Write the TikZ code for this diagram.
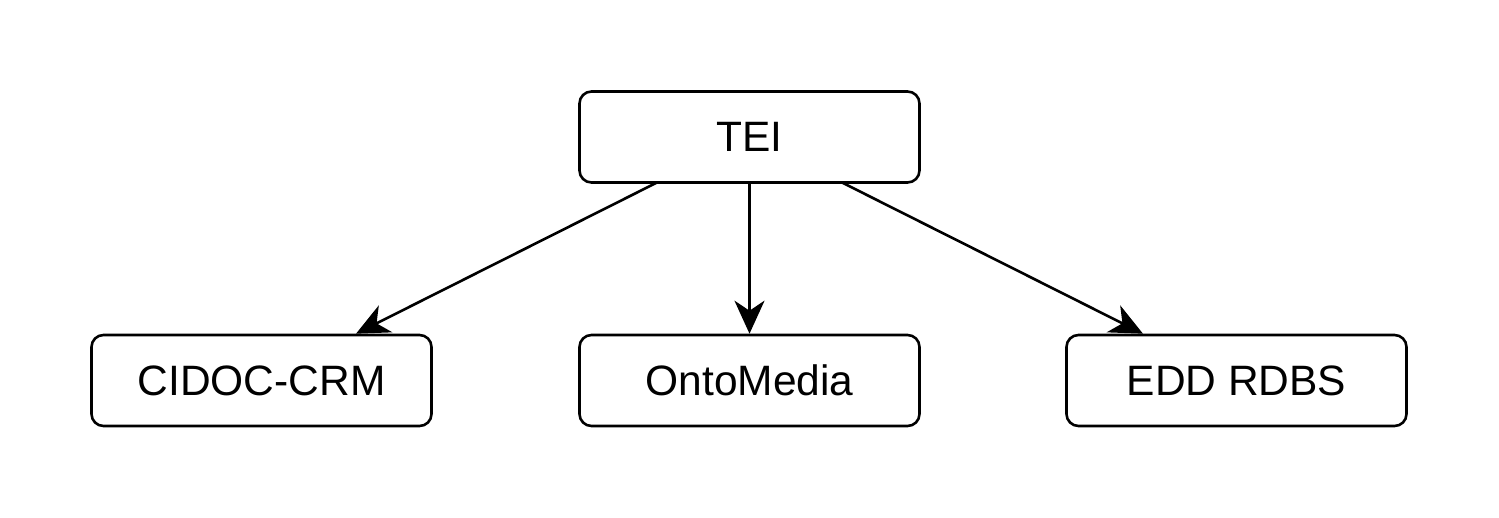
\documentclass[tikz,border=0pt]{standalone}
\usepackage{fontspec}
\setmainfont{Liberation Sans}
\usetikzlibrary{arrows.meta}
\begin{document}
\begin{tikzpicture}[x=1pt,y=-1pt,
  box/.style={draw, line width=2.6pt, rounded corners=12pt, minimum width=340pt, minimum height=91pt, inner sep=0pt, font=\fontsize{42.5}{50}\selectfont},
  conn/.style={line width=2.6pt, -{Stealth[length=33pt,width=30pt,inset=10pt]}}]
\useasboundingbox (0,0) rectangle (1499,518);
\node[box] (tei) at (749.5,137) {TEI};
\node[box] (cidoc) at (261.5,380.5) {CIDOC-CRM};
\node[box] (onto) at (749.5,380.5) {OntoMedia};
\node[box] (edd) at (1236.5,380.5) {EDD RDBS};
\coordinate (s1) at (657,182.5);
\coordinate (s3) at (842,182.5);
\draw[conn] (s1) -- (cidoc.north -| 356,0);
\draw[conn] (tei) -- (onto);
\draw[conn] (s3) -- (edd.north -| 1143,0);
\end{tikzpicture}
\end{document}
